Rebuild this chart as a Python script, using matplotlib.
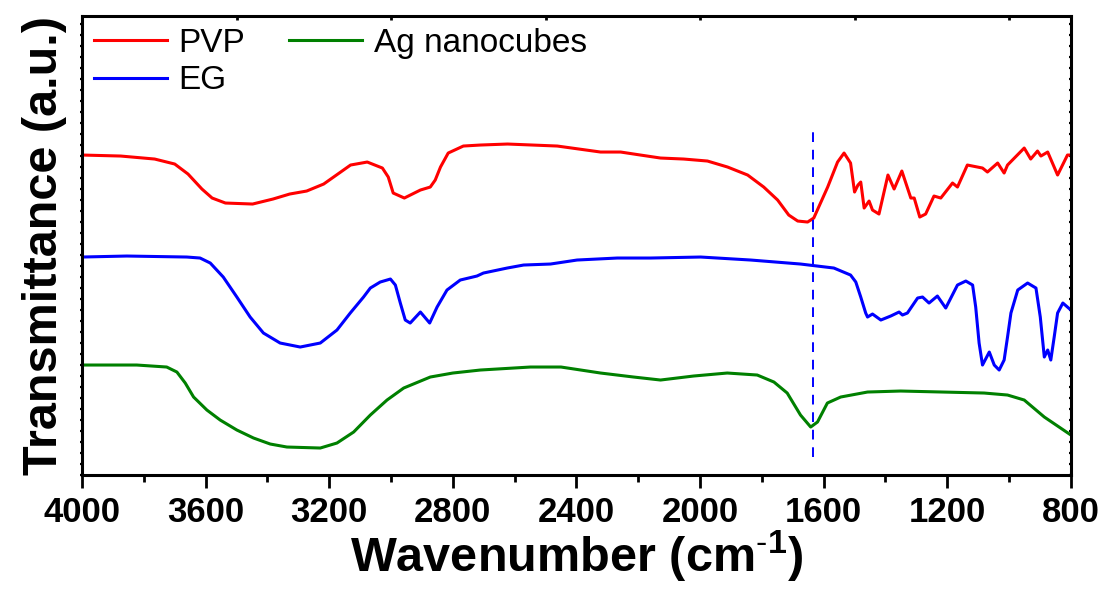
import matplotlib
matplotlib.use("Agg")
import matplotlib.pyplot as plt
from matplotlib import font_manager
from matplotlib.ticker import MultipleLocator, NullFormatter

# FTIR spectra (y in arbitrary, offset units)
pvp_wn = [4000, 3875, 3765, 3700, 3657, 3612, 3579, 3536, 3448, 3382, 3328,
          3273, 3218, 3163, 3131, 3077, 3028, 3009, 2993, 2957, 2931, 2905,
          2873, 2857, 2840, 2815, 2766, 2711, 2623, 2462, 2322, 2257, 2193,
          2128, 2053, 1976, 1911, 1846, 1794, 1749, 1713, 1684, 1652, 1632,
          1587, 1555, 1534, 1513, 1500, 1489, 1480, 1469, 1453, 1442, 1421,
          1392, 1372, 1347, 1318, 1307, 1289, 1270, 1243, 1221, 1183, 1167,
          1135, 1086, 1070, 1037, 1016, 1005, 951, 930, 908, 897, 875, 843,
          811, 800]
pvp_t = [320, 319, 316, 311, 301, 286, 277, 272, 271, 276, 281,
         284, 291, 303, 310, 313, 307, 298, 282, 277, 281, 285,
         288, 295, 308, 322, 329, 330, 331, 329, 323, 323, 320,
         317, 316, 314, 308, 300, 288, 275, 260, 254, 253, 257,
         288, 313, 322, 312, 283, 290, 293, 267, 274, 265, 261,
         300, 286, 304, 277, 277, 258, 261, 279, 277, 292, 288,
         310, 307, 303, 312, 302, 310, 327, 316, 324, 319, 323, 300,
         320, 320]

eg_wn = [4000, 3855, 3661, 3618, 3585, 3543, 3499, 3456, 3413, 3359, 3294,
         3229, 3175, 3132, 3089, 3067, 3035, 3002, 2986, 2970, 2954, 2938,
         2905, 2875, 2851, 2819, 2776, 2722, 2701, 2624, 2571, 2484, 2398,
         2268, 2160, 1998, 1836, 1675, 1567, 1513, 1496, 1480, 1464, 1458,
         1442, 1415, 1383, 1356, 1345, 1329, 1296, 1280, 1259, 1232, 1205,
         1167, 1140, 1118, 1108, 1097, 1086, 1064, 1048, 1032, 1016, 1005,
         994, 972, 940, 913, 899, 886, 875, 865, 854, 843, 826, 800]
eg_t = [218, 219, 218, 217, 212, 198, 178, 158, 142, 132, 128,
        132, 145, 162, 178, 187, 193, 196, 190, 172, 155, 152,
        163, 152, 168, 185, 195, 199, 202, 207, 210, 211, 215,
        217, 217, 218, 215, 211, 207, 200, 193, 178, 162, 158,
        161, 155, 159, 163, 160, 162, 177, 178, 172, 179, 167,
        190, 194, 190, 168, 132, 110, 123, 110, 105, 115, 138,
        162, 185, 192, 187, 158, 118, 125, 115, 138, 162, 172, 165]

ag_wn = [4000, 3823, 3726, 3693, 3666, 3639, 3596, 3553, 3499, 3445, 3391,
         3337, 3229, 3175, 3121, 3067, 3013, 2959, 2873, 2800, 2711, 2549,
         2450, 2322, 2215, 2128, 2021, 1912, 1815, 1761, 1718, 1675, 1642,
         1620, 1588, 1545, 1458, 1351, 1081, 1005, 951, 886, 800]
ag_t = [110, 110, 108, 103, 92, 78, 65, 55, 45, 37, 31,
        28, 27, 32, 43, 60, 75, 87, 98, 102, 105, 108,
        108, 102, 98, 95, 99, 102, 100, 93, 82, 60, 48,
        53, 72, 78, 83, 84, 82, 80, 75, 58, 40]

labels = ["PVP", "EG", "Ag nanocubes"]
colors = ["#ff0000", "#0000ff", "#008000"]
marker_wn = 1636

names = {f.name for f in font_manager.fontManager.ttflist}
narrow = "Liberation Sans Narrow" in names
bold_font = "Liberation Sans Narrow" if narrow else "Liberation Sans"
plt.rcParams["font.family"] = ["Liberation Sans", "DejaVu Sans"]
plt.rcParams["mathtext.fontset"] = "custom"
plt.rcParams["mathtext.rm"] = bold_font
plt.rcParams["mathtext.bf"] = bold_font + ":bold"
plt.rcParams["mathtext.default"] = "bf"

tick_size = 30 if narrow else 25
label_size = 40 if narrow else 35

fig = plt.figure(figsize=(11.04, 5.94), dpi=100)
ax = fig.add_axes([0.0743, 0.2003, 0.8957, 0.7727])

for wn, t, lab, c in zip([pvp_wn, eg_wn, ag_wn], [pvp_t, eg_t, ag_t],
                         labels, colors):
    ax.plot(wn, t, color=c, lw=2.2, label=lab, solid_joinstyle="round")
ax.plot([marker_wn, marker_wn], [18, 345], color="#0000ff", lw=1.4,
        ls=(0, (5, 4)))

ax.set_xlim(4000, 800)
ax.set_ylim(0, 459)
ax.xaxis.set_major_locator(MultipleLocator(400))
ax.xaxis.set_minor_locator(MultipleLocator(200))
ax.yaxis.set_major_locator(MultipleLocator(11))
ax.yaxis.set_major_formatter(NullFormatter())
for s in ax.spines.values():
    s.set_linewidth(2.2)
ax.tick_params(axis="x", which="major", direction="out", length=9,
               width=2, top=False, pad=6)
ax.tick_params(axis="x", which="minor", direction="out", length=5,
               width=2, top=False)
ax.secondary_xaxis("top").tick_params(which="both", direction="in",
                                      length=3, width=2, labeltop=False)
ax.tick_params(axis="y", which="major", direction="inout", length=3,
               width=1.6, left=True, right=True)
for t in ax.get_xticklabels():
    t.set_fontfamily(bold_font)
    t.set_fontweight("bold")
    t.set_fontsize(tick_size)

ax.set_xlabel(r"Wavenumber (cm$^{\text{-}1}$)", fontfamily=bold_font,
              fontweight="bold", fontsize=label_size, labelpad=0)
ax.set_ylabel("Transmittance (a.u.)", fontfamily=bold_font,
              fontweight="bold", fontsize=label_size, labelpad=6)

ax.legend(loc="upper left", ncol=2, frameon=False, fontsize=24,
          handlelength=2.2, handletextpad=0.35, labelspacing=0.2,
          columnspacing=1.3, borderaxespad=0.15, borderpad=0.2)

fig.savefig("out.png", dpi=100)
